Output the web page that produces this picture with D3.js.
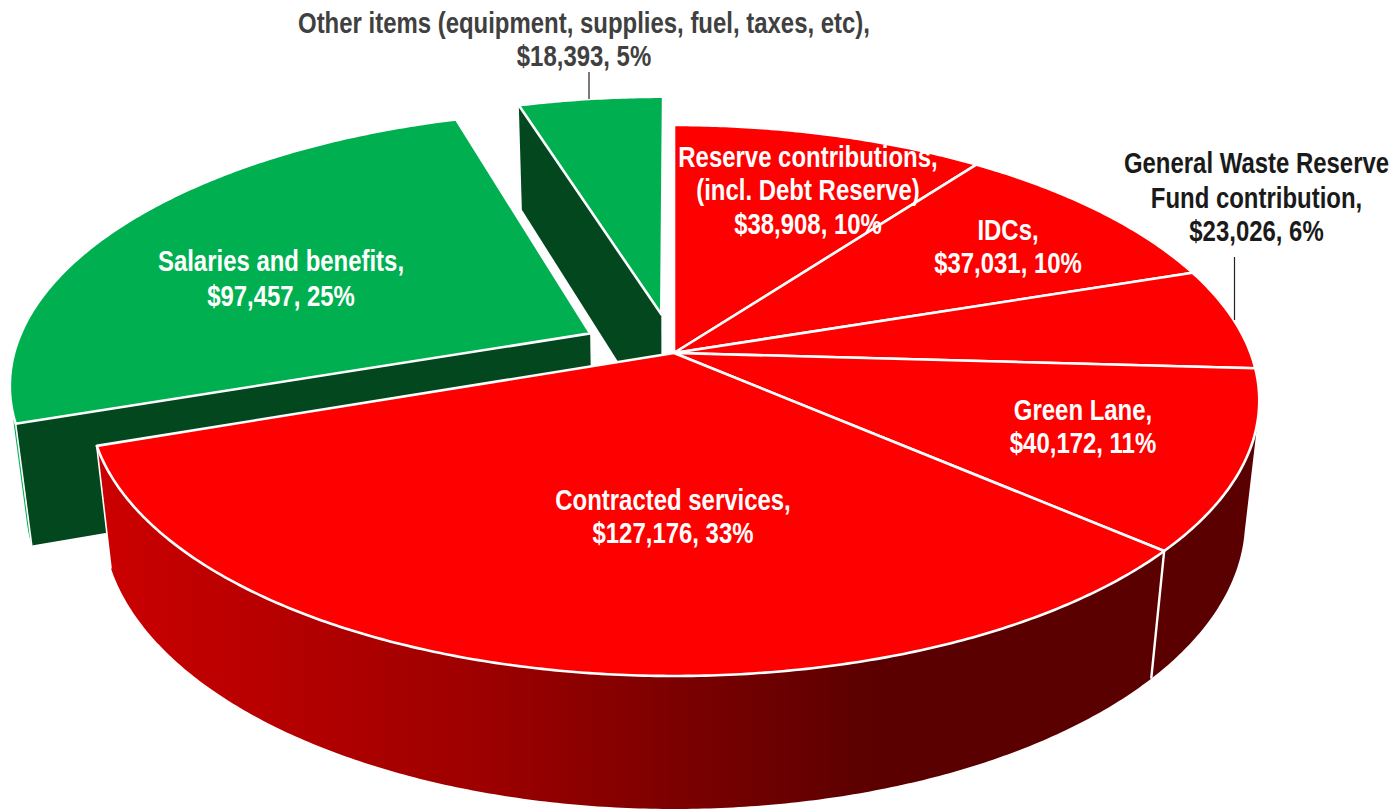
<!DOCTYPE html>
<html>
<head>
<meta charset="utf-8">
<script src="https://cdn.jsdelivr.net/npm/d3@7/dist/d3.min.js"></script>
<style>
  html, body { margin: 0; padding: 0; background: #fff; }
  text { font-family: "Liberation Sans", "Arial", sans-serif; font-weight: 700; font-size: 29px; text-anchor: middle; }
</style>
</head>
<body>
<svg id="chart" width="1399" height="809"></svg>
<script>
// Waste budget breakdown, clockwise from twelve o'clock
const categories = ["Reserve contributions", "IDCs", "General Waste Reserve Fund contribution", "Green Lane", "Contracted services", "Salaries and benefits", "Other items"];
const amounts = [38908, 37031, 23026, 40172, 127176, 97457, 18393];
const percentLabels = [10, 10, 6, 11, 33, 25, 5];
const families = ["red", "red", "red", "red", "red", "green", "green"];
const explosions = [0, 0, 0, 0, 0, 0.165, 0.15];

// Text blocks: wrapped label lines with their centres on the page
const labelBlocks = [
  { lines: ["Other items (equipment, supplies, fuel, taxes, etc),", "$18,393, 5%"], x: 584, y: [33, 66], fill: "#404040" },
  { lines: ["Reserve contributions,", "(incl. Debt Reserve)", "$38,908, 10%"], x: 808, y: [167, 200, 234], fill: "#fff" },
  { lines: ["IDCs,", "$37,031, 10%"], x: 1008, y: [240, 273], fill: "#fff" },
  { lines: ["General Waste Reserve", "Fund contribution,", "$23,026, 6%"], x: 1256.5, y: [173, 208, 241], fill: "#1a1a1a" },
  { lines: ["Green Lane,", "$40,172, 11%"], x: 1083, y: [420, 453], fill: "#fff" },
  { lines: ["Contracted services,", "$127,176, 33%"], x: 673, y: [510, 543], fill: "#fff" },
  { lines: ["Salaries and benefits,", "$97,457, 25%"], x: 281, y: [271, 306], fill: "#fff" }
];
const leaders = [
  { x: 589, y1: 72, y2: 99 },
  { x: 1234.5, y1: 257, y2: 320 }
];
const textSqueeze = 0.826;

// Perspective camera for a unit-radius disc lying on its side
const cam = { cx: 674, cy: 353, a: 576.5, b: 267.3, k: 0.1724, drop: 121, depthW: 0.024 };

function project(X, Y, lower) {
  const w = 1 + cam.k * Y + (lower ? cam.depthW : 0);
  return [cam.cx + cam.a * X / w, cam.cy + (-cam.b * Y + (lower ? cam.drop : 0)) / w];
}

const colors = {
  red: { top: "#ff0000" },
  green: { top: "#00b050", wall: "#03471f" }
};

const svg = d3.select("#chart");
const defs = svg.append("defs");
const grad = defs.append("linearGradient").attr("id", "rimShade")
  .attr("gradientUnits", "userSpaceOnUse").attr("x1", 95).attr("x2", 880).attr("y1", 0).attr("y2", 0);
[[0, "#cc0000"], [0.5, "#9c0000"], [1, "#5a0000"]].forEach(([o, c]) =>
  grad.append("stop").attr("offset", o).attr("stop-color", c));

const slices = d3.pie().sort(null).value(d => d).startAngle(0).endAngle(2 * Math.PI)(amounts)
  .map((s, i) => {
    const mid = (s.startAngle + s.endAngle) / 2;
    const e = explosions[i];
    return { ...s, i, family: families[i], ox: e * Math.sin(mid), oy: e * Math.cos(mid) };
  });

const line = d3.line();
const pt = (s, angle, lower) => project(s.ox + Math.sin(angle), s.oy + Math.cos(angle), lower);
const apex = (s, lower) => project(s.ox, s.oy, lower);
const rad = deg => deg * Math.PI / 180;

function arcPoints(s, a0, a1, lower) {
  const n = Math.max(2, Math.ceil(Math.abs(a1 - a0) / rad(0.5)));
  return d3.range(n + 1).map(j => pt(s, a0 + (a1 - a0) * j / n, lower));
}

function drawTop(g, s) {
  g.append("path")
    .attr("d", line([apex(s, false), ...arcPoints(s, s.startAngle, s.endAngle, false)]) + "Z")
    .attr("fill", colors[s.family].top)
    .attr("stroke", "#fff").attr("stroke-width", 2.6).attr("stroke-linejoin", "round");
}

function drawRim(g, s, a0, a1, fill) {
  g.append("path")
    .attr("d", line([...arcPoints(s, a0, a1, false), ...arcPoints(s, a1, a0, true)]) + "Z")
    .attr("fill", fill);
}

function drawJoint(g, s, angle, width) {
  g.append("path")
    .attr("d", line([pt(s, angle, false), pt(s, angle, true)]))
    .attr("stroke", "#fff").attr("stroke-width", width).attr("fill", "none");
}

const g = svg.append("g");

// Pulled-out green slices go down first, the red body then covers their lower walls
[slices[6], slices[5]].forEach(s => {
  if (s.i === 5) {
    const a = s.startAngle;
    drawRim(g, s, a, a + rad(4.5), colors.green.top);
  }
  g.append("path")
    .attr("d", line([apex(s, false), pt(s, s.startAngle, false), pt(s, s.startAngle, true), apex(s, true)]) + "Z")
    .attr("fill", colors.green.wall);
  if (s.i === 5) drawJoint(g, s, s.startAngle, 1.6);
  drawTop(g, s);
});

// Outer wall of the red body: only the stretch facing the viewer shows
drawRim(g, slices[3], rad(102), slices[3].endAngle, "#5a0000");
drawRim(g, slices[4], slices[4].startAngle, slices[4].endAngle, "url(#rimShade)");
drawJoint(g, slices[4], slices[4].startAngle, 2.4);
drawJoint(g, slices[4], slices[4].endAngle, 1.6);

slices.slice(0, 5).forEach(s => drawTop(g, s));

// Leader lines
svg.append("g").selectAll("line").data(leaders).join("line")
  .attr("x1", d => d.x).attr("x2", d => d.x)
  .attr("y1", d => d.y1).attr("y2", d => d.y2)
  .attr("stroke", "#222").attr("stroke-width", 1.2);

// Data labels, squeezed horizontally to a narrow bold face
const blocks = svg.append("g").selectAll("g").data(labelBlocks).join("g").attr("fill", d => d.fill);
blocks.selectAll("text").data(d => d.lines.map((t, j) => ({ t, x: d.x, y: d.y[j] }))).join("text")
  .attr("transform", d => `translate(${d.x},${d.y}) scale(${textSqueeze},1)`)
  .text(d => d.t);
</script>
</body>
</html>
